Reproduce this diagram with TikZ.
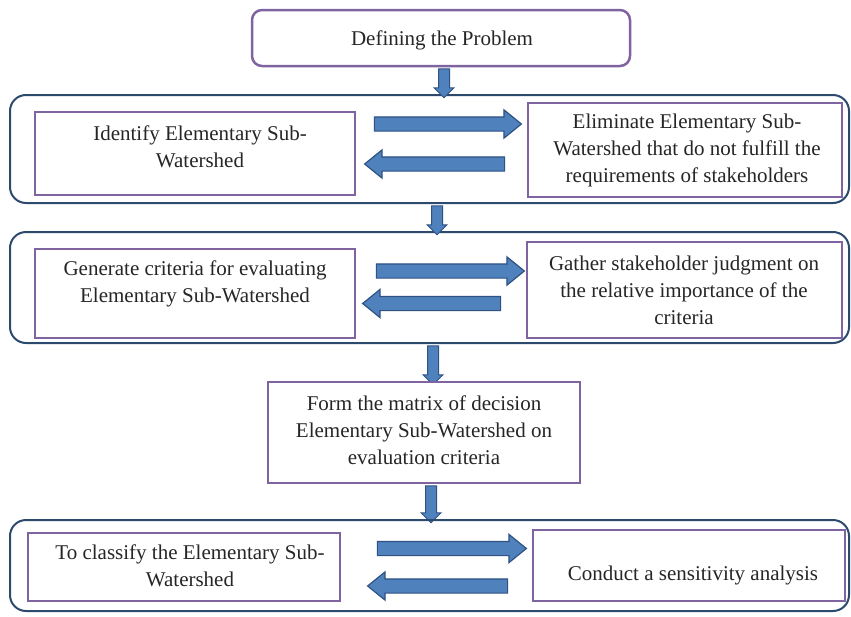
\documentclass[tikz,border=0pt]{standalone}
\usepackage{fontspec}
\setmainfont{Liberation Serif}
\usetikzlibrary{shapes.arrows}
\definecolor{pur}{HTML}{8064A2}
\definecolor{grpc}{HTML}{2C4A6E}
\definecolor{afill}{HTML}{4F81BD}
\definecolor{aline}{HTML}{2F5283}
\definecolor{txtc}{HTML}{262626}
\begin{document}
\begin{tikzpicture}[x=1pt,y=-1pt,font=\fontsize{21}{27}\selectfont,
  grpbox/.style={draw=grpc, line width=2pt, rounded corners=16pt, inner sep=0pt},
  pbox/.style={draw=pur, line width=2.5pt, fill=white, inner sep=0pt},
  txt/.style={align=center, text=txtc, inner sep=0pt},
  barrow/.style={single arrow, fill=afill, draw=aline, line width=1.2pt,
    single arrow head extend=7pt, single arrow head indent=0pt,
    single arrow tip angle=78,
    inner xsep=0pt, inner ysep=6.5pt},
  darrow/.style={single arrow, fill=afill, draw=aline, line width=1pt,
    single arrow head extend=4.5pt, single arrow head indent=0pt,
    inner xsep=0pt, inner ysep=5pt, rotate=-90}]
\useasboundingbox (0,0) rectangle (851,616);

% top box
\node[pbox, rounded corners=10pt, minimum width=378pt, minimum height=56pt] (top) at (441,38) {};
\node[txt] (ttop) at (442,40) {Defining the Problem};

% group 1
\node[grpbox, minimum width=839pt, minimum height=108pt] (g1) at (429.5,149) {};
\node[pbox, minimum width=320pt, minimum height=83pt] (b1L) at (195,153.5) {};
\node[txt] (t1L) at (200,146.5) {Identify Elementary Sub-\\Watershed};
\node[pbox, minimum width=314pt, minimum height=94pt] (b1R) at (685,150) {};
\node[txt] (t1R) at (687,150) {Eliminate Elementary Sub-\\Watershed that do not fulfill the\\requirements of stakeholders};
\node[barrow, minimum height=147pt] (a1R) at (443.5,124) {};
\node[barrow, minimum height=140pt, rotate=180] (a1L) at (439,164) {};
\node[darrow, minimum height=29pt] (d1) at (444,80.5) {};

% group 2
\node[grpbox, minimum width=839pt, minimum height=111pt] (g2) at (429.5,287.5) {};
\node[pbox, minimum width=320pt, minimum height=89pt] (b2L) at (195,293.5) {};
\node[txt] (t2L) at (195,283.5) {Generate criteria for evaluating\\Elementary Sub-Watershed};
\node[pbox, minimum width=315pt, minimum height=96pt] (b2R) at (684.5,290) {};
\node[txt] (t2R) at (684,290) {Gather stakeholder judgment on\\the relative importance of the\\criteria};
\node[barrow, minimum height=148pt] (a2R) at (446,271) {};
\node[barrow, minimum height=138pt, rotate=180] (a2L) at (436,303.5) {};
\node[darrow, minimum height=29pt] (d2) at (437,217.5) {};

% middle
\node[darrow, minimum height=39pt] (d3) at (433,362.5) {};
\node[pbox, minimum width=312pt, minimum height=101pt] (mid) at (424,432.5) {};
\node[txt] (tmid) at (424,430) {Form the matrix of decision\\Elementary Sub-Watershed on\\evaluation criteria};
\node[darrow, minimum height=37pt] (d4) at (431,501.5) {};

% group 3
\node[grpbox, minimum width=839pt, minimum height=91pt] (g3) at (429.5,565.5) {};
\node[pbox, minimum width=312pt, minimum height=68pt] (b3L) at (184,567) {};
\node[txt] (t3L) at (190,566) {To classify the Elementary Sub-\\Watershed};
\node[pbox, minimum width=312pt, minimum height=71pt] (b3R) at (689,565.5) {};
\node[txt] (t3R) at (693,575) {Conduct a sensitivity analysis};
\node[barrow, minimum height=149pt] (a3R) at (447.5,548.5) {};
\node[barrow, minimum height=140pt, rotate=180] (a3L) at (442,586) {};
\end{tikzpicture}
\end{document}
